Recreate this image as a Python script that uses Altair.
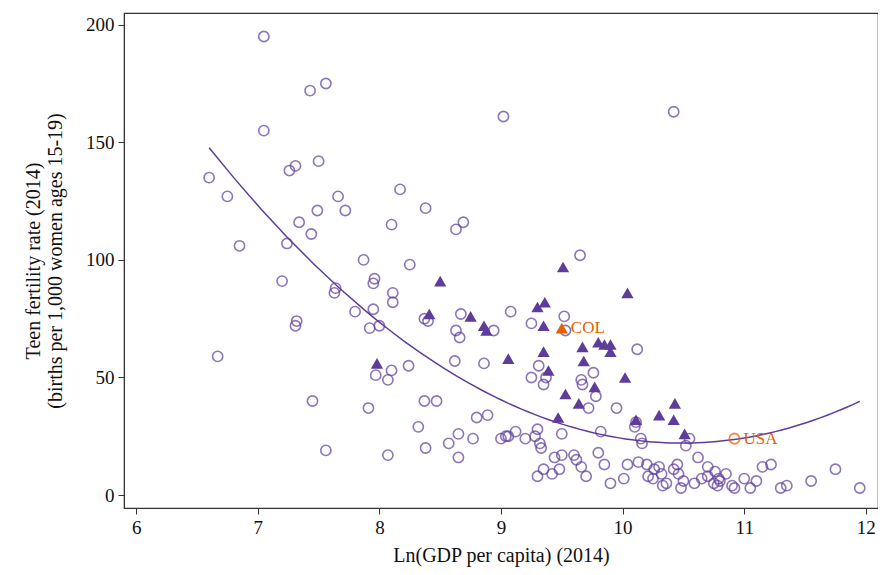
import altair as alt
import pandas as pd

circ_x = [6.6, 6.67, 6.75, 6.85, 7.05, 7.05, 7.2, 7.24, 7.26, 7.31, 7.31, 7.32, 7.34, 7.43, 7.44, 7.45, 7.49, 7.5,
          7.56, 7.56, 7.63, 7.64, 7.66, 7.72, 7.8, 7.87, 7.91, 7.92, 7.95, 7.96, 7.95, 7.97, 8.0, 8.07, 8.07, 8.1,
          8.1, 8.11, 8.11, 8.17, 8.24, 8.25, 8.32, 8.37, 8.37, 8.38, 8.38, 8.4, 8.47, 8.57, 8.62, 8.63, 8.63, 8.65,
          8.65, 8.66, 8.67, 8.69, 8.77, 8.8, 8.86, 8.89, 8.94, 9.0, 9.02, 9.04, 9.06, 9.08, 9.12, 9.2, 9.25, 9.25,
          9.28, 9.3, 9.3, 9.31, 9.32, 9.33, 9.35, 9.35, 9.37, 9.42, 9.44, 9.48, 9.5, 9.5, 9.52, 9.53, 9.6, 9.62,
          9.65, 9.66, 9.66, 9.67, 9.7, 9.72, 9.76, 9.78, 9.8, 9.82, 9.85, 9.9, 9.95, 10.01, 10.04, 10.1, 10.11,
          10.12, 10.13, 10.15, 10.16, 10.2, 10.21, 10.25, 10.26, 10.3, 10.32, 10.33, 10.36, 10.42, 10.45, 10.46,
          10.48, 10.5, 10.52, 10.55, 10.59, 10.62, 10.65, 10.7, 10.7, 10.75, 10.76, 10.78, 10.79, 10.8, 10.85,
          10.9, 10.92, 11.0, 11.05, 11.1, 11.15, 11.22, 11.3, 11.35, 11.55, 11.75, 11.95, 10.42]
circ_y = [135, 59, 127, 106, 195, 155, 91, 107, 138, 140, 72, 74, 116, 172, 111, 40, 121, 142,
          19, 175, 86, 88, 127, 121, 78, 100, 37, 71, 79, 92, 90, 51, 72, 17, 49, 53,
          115, 82, 86, 130, 55, 98, 29, 40, 75, 122, 20, 74, 40, 22, 57, 113, 70, 26,
          16, 67, 77, 116, 24, 33, 56, 34, 70, 24, 161, 25, 25, 78, 27, 24, 73, 50,
          25, 8, 28, 55, 22, 20, 47, 11, 50, 9, 16, 11, 17, 26, 76, 70, 17, 15,
          102, 49, 12, 47, 8, 37, 52, 42, 18, 27, 13, 5, 37, 7, 13, 29, 31,
          62, 14, 24, 22, 13, 8, 7, 11, 12, 9, 4, 5, 11, 13, 9,
          3, 6, 21, 24, 5, 16, 7, 8, 12, 5, 10, 4, 7, 6, 9,
          4, 3, 7, 3, 6, 12, 13, 3, 4, 6, 11, 3, 163]

tri_x = [8.5, 8.41, 7.98, 8.75, 8.86, 8.88, 9.06, 9.3, 9.36, 9.35, 9.51, 9.35, 9.39, 9.53, 9.47, 10.04,
         9.67, 9.68, 9.8, 9.85, 9.9, 9.9, 9.64, 9.77, 10.02, 10.11, 10.3, 10.43, 10.42, 10.51]
tri_y = [91, 77, 56, 76, 72, 70, 58, 80, 82, 72, 97, 61, 53, 43, 33, 86,
         63, 57, 65, 64, 64, 61, 39, 46, 50, 32, 34, 39, 32, 26]

# fitted curve
fit_x = [6.6, 7.0, 8.0, 9.0, 9.5, 10.0, 10.5, 11.0, 11.5, 11.95]
fit_y = [146, 125, 74, 41, 30, 22.5, 21, 25.5, 32, 39]

hl_label = ["COL", "USA"]
hl_x = [9.5, 10.92]
hl_y = [71, 24]

purple = "#5e3c99"
orange = "#e66101"
serif = "Liberation Serif"

pts = pd.DataFrame({
    "x": circ_x + tri_x,
    "y": circ_y + tri_y,
    "kind": ["c"] * len(circ_x) + ["t"] * len(tri_x),
})
hl = pd.DataFrame({"x": hl_x, "y": hl_y, "label": hl_label})
curve = pd.DataFrame({"x": fit_x, "y": fit_y})

xs = alt.X("x:Q", title="Ln(GDP per capita) (2014)", scale=alt.Scale(domain=[5.9, 12.1], nice=False, zero=False),
           axis=alt.Axis(values=[6, 7, 8, 9, 10, 11, 12], grid=False, tickSize=6, titlePadding=8))
ys = alt.Y("y:Q", title=["Teen fertility rate (2014)", "(births per 1,000 women ages 15-19)"],
           scale=alt.Scale(domain=[-5.5, 205], nice=False),
           axis=alt.Axis(values=[0, 50, 100, 150, 200], grid=False, tickSize=6, titlePadding=20))

base = alt.Chart(pts)
circles = base.transform_filter("datum.kind == 'c'").mark_point(
    shape="circle", filled=False, color=purple, size=105, strokeWidth=1.6).encode(x=xs, y=ys)
tris = base.transform_filter("datum.kind == 't'").mark_point(
    shape="triangle-up", filled=True, color=purple, size=150, opacity=1).encode(x=xs, y=ys)
fit = alt.Chart(curve).transform_regression("x", "y", method="poly", order=2, extent=[6.6, 11.95]).mark_line(
    color=purple, strokeWidth=1.5).encode(x=xs, y=ys)

hl_col = alt.Chart(hl).transform_filter("datum.label == 'COL'").mark_point(
    shape="triangle-up", filled=True, color=orange, size=150, opacity=1).encode(x=xs, y=ys)
hl_usa = alt.Chart(hl).transform_filter("datum.label == 'USA'").mark_point(
    shape="circle", filled=False, color=orange, size=105, strokeWidth=1.8).encode(x=xs, y=ys)
hl_txt = alt.Chart(hl).mark_text(align="left", dx=9, color=orange, font=serif, fontSize=17).encode(
    x=xs, y=ys, text="label:N")

chart = alt.layer(fit, circles, tris, hl_col, hl_usa, hl_txt).properties(
    width=754, height=495,
    autosize=alt.AutoSizeParams(type="none"),
    padding={"left": 116, "top": 5, "right": 0, "bottom": 60},
).configure_view(stroke="#333", strokeWidth=1.2).configure_axis(
    labelFont=serif, titleFont=serif, labelFontSize=19, titleFontSize=20,
    titleFontWeight="normal", labelColor="#111", titleColor="#111", domainColor="#333",
    tickColor="#333", labelPadding=4,
)

chart.save("out.html", embed_options={"renderer": "svg", "actions": False})
